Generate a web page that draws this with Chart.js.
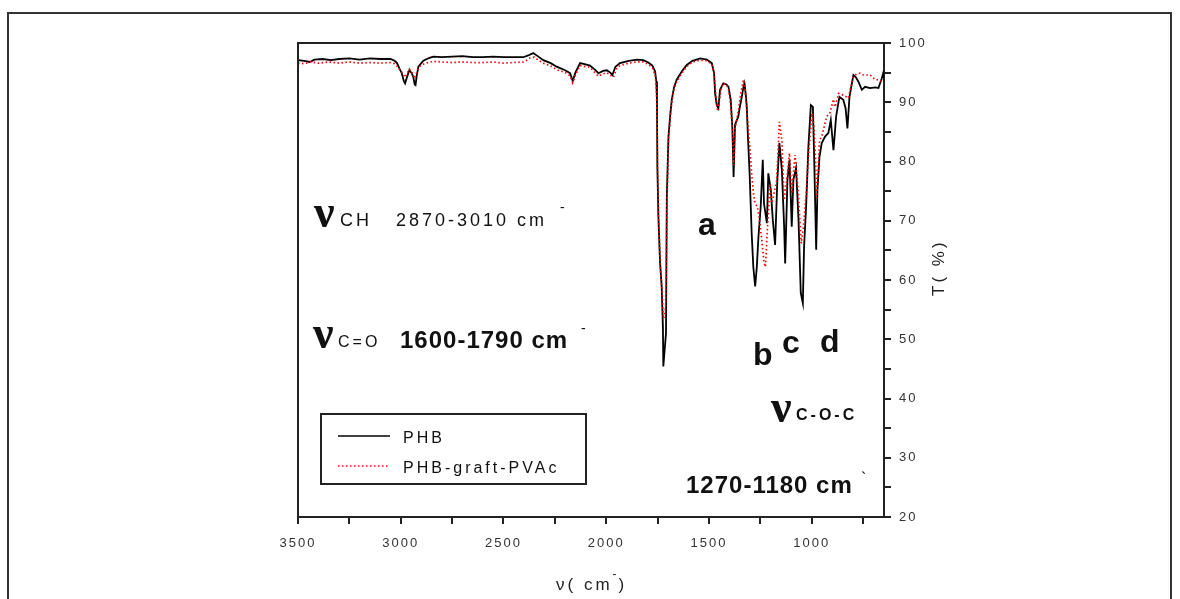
<!DOCTYPE html>
<html>
<head>
<meta charset="utf-8">
<script src="https://cdn.jsdelivr.net/npm/chart.js@4.4.1/dist/chart.umd.min.js"></script>
<style>
html, body { margin: 0; padding: 0; background: #fff; }
#wrap { width: 1180px; height: 599px; position: relative; }
</style>
</head>
<body>
<div id="wrap"><canvas id="irChart"></canvas></div>
<script>
// IR spectra, wavenumber (cm-1) vs transmittance (%)
var seriesNames = ["PHB", "PHB-graft-PVAc"];

var phbWn = [3500, 3470, 3442, 3420, 3380, 3340, 3300, 3250, 3200, 3150, 3100, 3050, 3030, 3018, 3005, 2995, 2985, 2979, 2970, 2958, 2948, 2939, 2932, 2928, 2922, 2914, 2890, 2860, 2841, 2800, 2750, 2700, 2650, 2600, 2550, 2500, 2450, 2403, 2380, 2355, 2330, 2306, 2270, 2241, 2200, 2176, 2163, 2150, 2127, 2100, 2079, 2055, 2038, 2015, 1997, 1980, 1970, 1955, 1933, 1890, 1851, 1820, 1795, 1775, 1762, 1756, 1753, 1751, 1746, 1738, 1730, 1724, 1722, 1716, 1709, 1705, 1697, 1688, 1681, 1670, 1657, 1630, 1608, 1580, 1543, 1510, 1486, 1475, 1470, 1462, 1454, 1446, 1430, 1415, 1405, 1394, 1386, 1380, 1373, 1357, 1348, 1340, 1332, 1327, 1320, 1316, 1310, 1302, 1292, 1284, 1275, 1267, 1259, 1248, 1238, 1232, 1218, 1211, 1199, 1189, 1178, 1167, 1157, 1145, 1134, 1129, 1118, 1108, 1097, 1089, 1076, 1064, 1053, 1043, 1037, 1027, 1016, 1004, 994, 988, 978, 972, 962, 951, 935, 919, 907, 894, 881, 865, 846, 835, 826, 816, 797, 785, 773, 756, 740, 716, 690, 675, 659, 652, 650];
var phbT = [97.1, 97.0, 96.8, 97.2, 97.3, 97.1, 97.3, 97.4, 97.2, 97.4, 97.3, 97.3, 97.0, 96.6, 95.6, 94.9, 93.6, 93.2, 94.2, 95.4, 95.0, 94.3, 93.0, 92.9, 94.5, 96.0, 97.0, 97.5, 97.7, 97.6, 97.7, 97.8, 97.6, 97.6, 97.7, 97.6, 97.6, 97.6, 97.9, 98.3, 97.7, 97.1, 96.6, 96.0, 95.4, 94.9, 93.6, 95.0, 96.6, 96.4, 96.2, 95.5, 94.9, 95.3, 95.4, 95.0, 94.6, 96.0, 96.6, 97.0, 97.2, 97.1, 96.7, 96.2, 95.2, 93.5, 90.4, 79.1, 70.7, 63.0, 58.9, 52.0, 45.4, 48.0, 51.0, 74.0, 84.2, 88.0, 90.4, 92.5, 93.8, 95.3, 96.3, 97.0, 97.4, 97.2, 96.6, 94.9, 91.5, 89.5, 89.0, 92.1, 93.2, 93.0, 92.6, 90.4, 85.6, 77.4, 86.2, 87.6, 89.5, 90.9, 92.6, 93.2, 91.0, 89.3, 84.0, 78.0, 67.9, 62.2, 58.9, 62.2, 67.3, 72.4, 80.3, 72.9, 69.6, 78.0, 75.2, 70.1, 65.9, 76.9, 83.1, 78.6, 69.0, 62.8, 76.9, 80.3, 69.0, 76.9, 78.9, 70.1, 57.8, 56.1, 65.6, 72.4, 82.5, 89.5, 89.2, 80.8, 65.1, 75.2, 80.8, 83.1, 84.2, 84.8, 87.0, 81.9, 87.6, 90.9, 90.4, 89.0, 85.6, 90.9, 94.6, 94.2, 93.5, 92.1, 92.6, 92.4, 92.5, 92.4, 94.0, 94.9, 94.6];

var graftWn = [3500, 3470, 3440, 3400, 3350, 3300, 3250, 3200, 3150, 3100, 3050, 3030, 3015, 3000, 2990, 2980, 2970, 2958, 2945, 2932, 2922, 2910, 2880, 2840, 2800, 2750, 2700, 2650, 2600, 2550, 2500, 2450, 2400, 2370, 2350, 2330, 2306, 2270, 2241, 2200, 2176, 2163, 2150, 2127, 2100, 2079, 2055, 2038, 2015, 1997, 1980, 1965, 1950, 1933, 1890, 1851, 1820, 1795, 1775, 1762, 1756, 1753, 1750, 1746, 1738, 1730, 1724, 1721, 1716, 1710, 1705, 1697, 1688, 1681, 1670, 1657, 1630, 1608, 1580, 1543, 1510, 1486, 1475, 1468, 1458, 1450, 1440, 1430, 1415, 1405, 1394, 1386, 1380, 1373, 1357, 1345, 1332, 1325, 1316, 1308, 1300, 1292, 1283, 1275, 1265, 1255, 1243, 1232, 1225, 1214, 1202, 1194, 1186, 1170, 1157, 1145, 1134, 1121, 1108, 1097, 1081, 1064, 1051, 1040, 1027, 1016, 999, 990, 983, 975, 962, 951, 927, 912, 894, 886, 869, 846, 821, 810, 797, 780, 764, 748, 716, 690, 675, 659, 650];
var graftT = [96.6, 96.5, 96.8, 96.6, 96.8, 96.6, 96.8, 96.6, 96.7, 96.6, 96.7, 96.5, 96.0, 95.3, 94.8, 94.2, 94.8, 95.6, 95.0, 94.0, 95.0, 96.0, 96.6, 96.9, 96.8, 96.7, 96.8, 96.7, 96.7, 96.8, 96.6, 96.7, 96.8, 97.5, 97.6, 97.1, 96.6, 96.1, 95.5, 95.0, 94.5, 93.3, 94.6, 96.2, 96.0, 95.9, 95.0, 94.4, 94.8, 95.0, 94.6, 94.2, 95.6, 96.2, 96.6, 96.8, 96.8, 96.4, 95.8, 94.6, 92.5, 88.5, 79.0, 71.0, 63.0, 59.0, 55.0, 53.5, 54.0, 56.0, 72.0, 83.5, 87.5, 90.0, 92.2, 93.5, 95.0, 96.0, 96.8, 97.1, 97.0, 96.4, 94.8, 91.8, 88.5, 90.0, 92.5, 93.2, 93.0, 92.3, 89.5, 85.5, 79.4, 85.5, 88.5, 91.5, 93.8, 92.5, 88.5, 85.3, 81.9, 78.0, 74.5, 72.9, 72.4, 70.5, 66.8, 63.0, 62.2, 69.6, 76.3, 73.0, 74.1, 76.9, 86.7, 83.6, 73.5, 76.9, 81.4, 74.6, 81.1, 74.1, 66.2, 69.0, 74.6, 80.8, 88.1, 86.0, 81.9, 73.8, 83.6, 84.2, 87.6, 88.1, 90.5, 89.2, 91.5, 91.2, 90.7, 92.5, 94.3, 94.8, 94.9, 94.6, 94.6, 93.8, 93.8, 93.5, 93.6];

var xLabels = [3500, 3000, 2500, 2000, 1500, 1000];
var yLabels = [20, 30, 40, 50, 60, 70, 80, 90, 100];

function pts(xs, ys) {
    return xs.map(function (x, i) { return { x: x, y: ys[i] }; });
}

function txt(ctx, s, x, y, font, spacing, color) {
    ctx.save();
    ctx.font = font;
    ctx.letterSpacing = spacing + "px";
    ctx.fillStyle = color || "#111";
    ctx.textBaseline = "alphabetic";
    ctx.textAlign = "left";
    ctx.fillText(s, x, y);
    var w = ctx.measureText(s).width;
    ctx.restore();
    return w;
}

var SANS = '"Liberation Sans", Arial, sans-serif';
var NU = 'bold 46px "Liberation Serif", serif';

// frame, outer border, legend, annotations
var decor = {
    id: "decor",
    beforeDraw: function (chart) {
        var ctx = chart.ctx;
        ctx.save();
        ctx.fillStyle = "#fff";
        ctx.fillRect(0, 0, chart.width, chart.height);
        ctx.strokeStyle = "#333";
        ctx.lineWidth = 2;
        ctx.strokeRect(8, 13, 1163, 620);
        ctx.restore();
        ctx.letterSpacing = "2px";
    },
    beforeDatasetsDraw: function (chart) {
        chart.ctx.letterSpacing = "0px";
    },
    afterDraw: function (chart) {
        var ctx = chart.ctx, a = chart.chartArea;
        ctx.save();
        ctx.strokeStyle = "#222";
        ctx.lineWidth = 2;
        ctx.beginPath();
        ctx.moveTo(a.left, a.bottom);
        ctx.lineTo(a.left, a.top);
        ctx.lineTo(a.right, a.top);
        ctx.stroke();

        // legend
        ctx.strokeRect(321, 414, 265, 70);
        ctx.lineWidth = 1.6;
        ctx.strokeStyle = "#000";
        ctx.beginPath();
        ctx.moveTo(338, 436); ctx.lineTo(390, 436);
        ctx.stroke();
        ctx.strokeStyle = "#ff0000";
        ctx.setLineDash([1.5, 2.5]);
        ctx.beginPath();
        ctx.moveTo(338, 466); ctx.lineTo(390, 466);
        ctx.stroke();
        ctx.setLineDash([]);
        ctx.restore();
        txt(ctx, seriesNames[0], 403, 443, "16px " + SANS, 3);
        txt(ctx, seriesNames[1], 403, 473, "16px " + SANS, 3);

        // band annotations
        txt(ctx, "ν", 314, 227, NU, 0);
        txt(ctx, "CH", 340, 226, "18px " + SANS, 3);
        txt(ctx, "2870-3010 cm", 396, 226, "18px " + SANS, 3);
        txt(ctx, "-", 560, 212, "14px " + SANS, 0);

        txt(ctx, "ν", 313, 348, NU, 0);
        txt(ctx, "C=O", 338, 347, "16px " + SANS, 3);
        txt(ctx, "1600-1790 cm", 400, 348, "bold 24px " + SANS, 1);
        txt(ctx, "-", 581, 333, "14px " + SANS, 0);

        txt(ctx, "ν", 771, 422, NU, 0);
        txt(ctx, "C-O-C", 796, 420, "bold 16px " + SANS, 3);
        txt(ctx, "1270-1180 cm", 686, 493, "bold 24px " + SANS, 1);
        txt(ctx, "`", 861, 484, "16px " + SANS, 0);

        txt(ctx, "a", 698, 235, "bold 32px " + SANS, 0);
        txt(ctx, "b", 753, 365, "bold 32px " + SANS, 0);
        txt(ctx, "c", 782, 353, "bold 32px " + SANS, 0);
        txt(ctx, "d", 820, 352, "bold 32px " + SANS, 0);

        // axis titles
        var w = txt(ctx, "ν( cm", 556, 590, "17px " + SANS, 3, "#222");
        txt(ctx, "-", 556 + w, 578, "12px " + SANS, 0, "#222");
        txt(ctx, ")", 562 + w, 590, "17px " + SANS, 3, "#222");

        ctx.save();
        ctx.translate(944, 296);
        ctx.rotate(-Math.PI / 2);
        txt(ctx, "T( %)", 0, 0, "17px " + SANS, 3, "#222");
        ctx.restore();
    }
};

new Chart("irChart", {
    type: "line",
    data: {
        datasets: [{
            label: seriesNames[0],
            data: pts(phbWn, phbT),
            borderColor: "#000",
            borderWidth: 1.8,
            pointRadius: 0,
            tension: 0,
            order: 2
        }, {
            label: seriesNames[1],
            data: pts(graftWn, graftT),
            borderColor: "#ff0000",
            borderWidth: 1.7,
            borderDash: [1.5, 2.5],
            pointRadius: 0,
            tension: 0,
            order: 1
        }]
    },
    options: {
        responsive: true,
        maintainAspectRatio: false,
        animation: false,
        layout: { padding: { left: 298, top: 43, right: 236, bottom: 0 } },
        plugins: { legend: { display: false }, tooltip: { enabled: false } },
        scales: {
            x: {
                type: "linear",
                reverse: true,
                min: 648,
                max: 3500,
                afterFit: function (s) { s.height = 82; },
                border: { color: "#222", width: 2 },
                grid: { drawOnChartArea: false, tickLength: 7, color: "#222", lineWidth: 2 },
                ticks: {
                    stepSize: 250,
                    includeBounds: false,
                    autoSkip: false,
                    maxRotation: 0,
                    padding: 12,
                    color: "#333",
                    font: { family: SANS, size: 13 },
                    callback: function (v) { return xLabels.indexOf(v) >= 0 ? v : ""; }
                }
            },
            y: {
                position: "right",
                min: 20,
                max: 100,
                afterFit: function (s) { s.width = 60; },
                border: { color: "#222", width: 2 },
                grid: { drawOnChartArea: false, tickLength: 7, color: "#222", lineWidth: 2 },
                ticks: {
                    stepSize: 5,
                    autoSkip: false,
                    padding: 8,
                    color: "#333",
                    font: { family: SANS, size: 13 },
                    callback: function (v) { return yLabels.indexOf(v) >= 0 ? v : ""; }
                }
            }
        }
    },
    plugins: [decor]
});
</script>
</body>
</html>
